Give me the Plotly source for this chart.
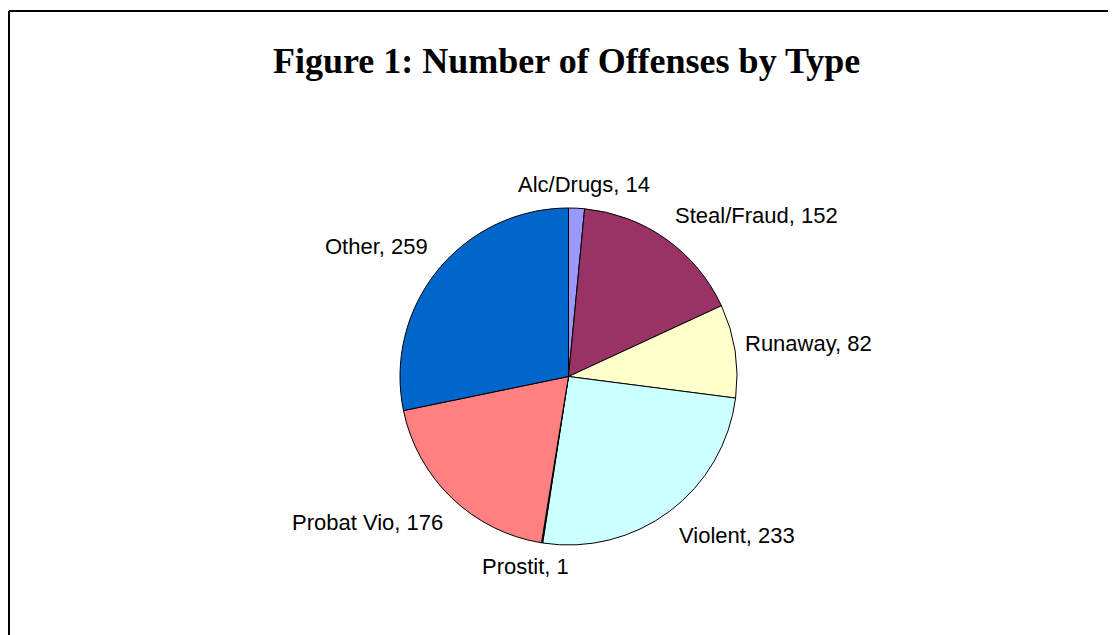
import math
import plotly.graph_objects as go

# ---- data ----
categories = ["Alc/Drugs", "Steal/Fraud", "Runaway", "Violent", "Prostit", "Probat Vio", "Other"]
counts = [14, 152, 82, 233, 1, 176, 259]
colors = ["#9999FF", "#993366", "#FFFFCC", "#CCFFFF", "#660066", "#FF8080", "#0066CC"]
title_text = "Figure 1: Number of Offenses by Type"

# ---- layout constants (screen px; page body adds an 8px margin) ----
W, H = 1116, 635
OFF = 8
PIE_L, PIE_R, PIE_T, PIE_B = 400 - OFF, 737 - OFF, 208 - OFF, 545 - OFF
cx = (PIE_L + PIE_R) / 2
cy = (PIE_T + PIE_B) / 2
R = (PIE_R - PIE_L) / 2
FONT = 22
LABEL_FONT = "Liberation Sans, Arial, sans-serif"

# Arial advance widths (per 1000 em) for label width estimation
ARIAL_W = {
    "A": 667, "l": 222, "c": 500, "/": 278, "D": 722, "r": 333, "u": 556, "g": 556,
    "s": 500, ",": 278, " ": 278, "S": 667, "t": 278, "e": 556, "a": 556, "F": 611,
    "d": 556, "R": 722, "n": 556, "w": 722, "y": 500, "V": 667, "i": 222, "o": 556,
    "P": 667, "b": 556, "O": 778, "h": 556, "p": 556, "f": 278,
}


def text_w(s):
    return sum(ARIAL_W.get(ch, 556) for ch in s) / 1000 * FONT


fig = go.Figure(
    go.Pie(
        labels=categories,
        values=counts,
        marker=dict(colors=colors, line=dict(color="black", width=1)),
        sort=False,
        direction="clockwise",
        rotation=0,
        textinfo="none",
        hoverinfo="label+value",
        showlegend=False,
        domain=dict(x=[PIE_L / W, PIE_R / W], y=[1 - PIE_B / H, 1 - PIE_T / H]),
    )
)

# data labels placed around the pie from slice mid-angles
total = sum(counts)
cum = 0
annotations = []
for cat, v in zip(categories, counts):
    mid = (cum + v / 2) / total * 2 * math.pi
    cum += v
    ux, uy = math.sin(mid), -math.cos(mid)
    ex, ey = cx + R * ux, cy + R * uy
    label = f"{cat}, {v}"
    hw = text_w(label) / 2
    hh = FONT / 2
    sx = max(-1, min(1, 2 * ux))
    sy = max(-1, min(1, 2 * uy))
    lx = ex + sx * (hw + 9)
    ly = ey + sy * (hh + 13)
    annotations.append(dict(
        x=lx / W, y=1 - ly / H, xref="paper", yref="paper",
        text=label, showarrow=False, xanchor="center", yanchor="middle",
        font=dict(family=LABEL_FONT, size=FONT, color="black"),
    ))

annotations.append(dict(
    x=(566.5 - OFF) / W, y=1 - (61 - OFF) / H, xref="paper", yref="paper",
    text=f"<b>{title_text}</b>", showarrow=False, xanchor="center", yanchor="middle",
    font=dict(family="Liberation Serif, Times New Roman, serif", size=36, color="black"),
))

bx = (9 - OFF) / W
by = 1 - (11 - OFF) / H
fig.update_layout(
    width=W, height=H,
    margin=dict(l=0, r=0, t=0, b=0),
    paper_bgcolor="white", plot_bgcolor="white",
    annotations=annotations,
    shapes=[
        dict(type="line", xref="paper", yref="paper", x0=bx, x1=1.2, y0=by, y1=by,
             line=dict(color="black", width=2), layer="below"),
        dict(type="line", xref="paper", yref="paper", x0=bx, x1=bx, y0=-0.2, y1=by,
             line=dict(color="black", width=2), layer="below"),
    ],
)

fig.write_html("out.html")
